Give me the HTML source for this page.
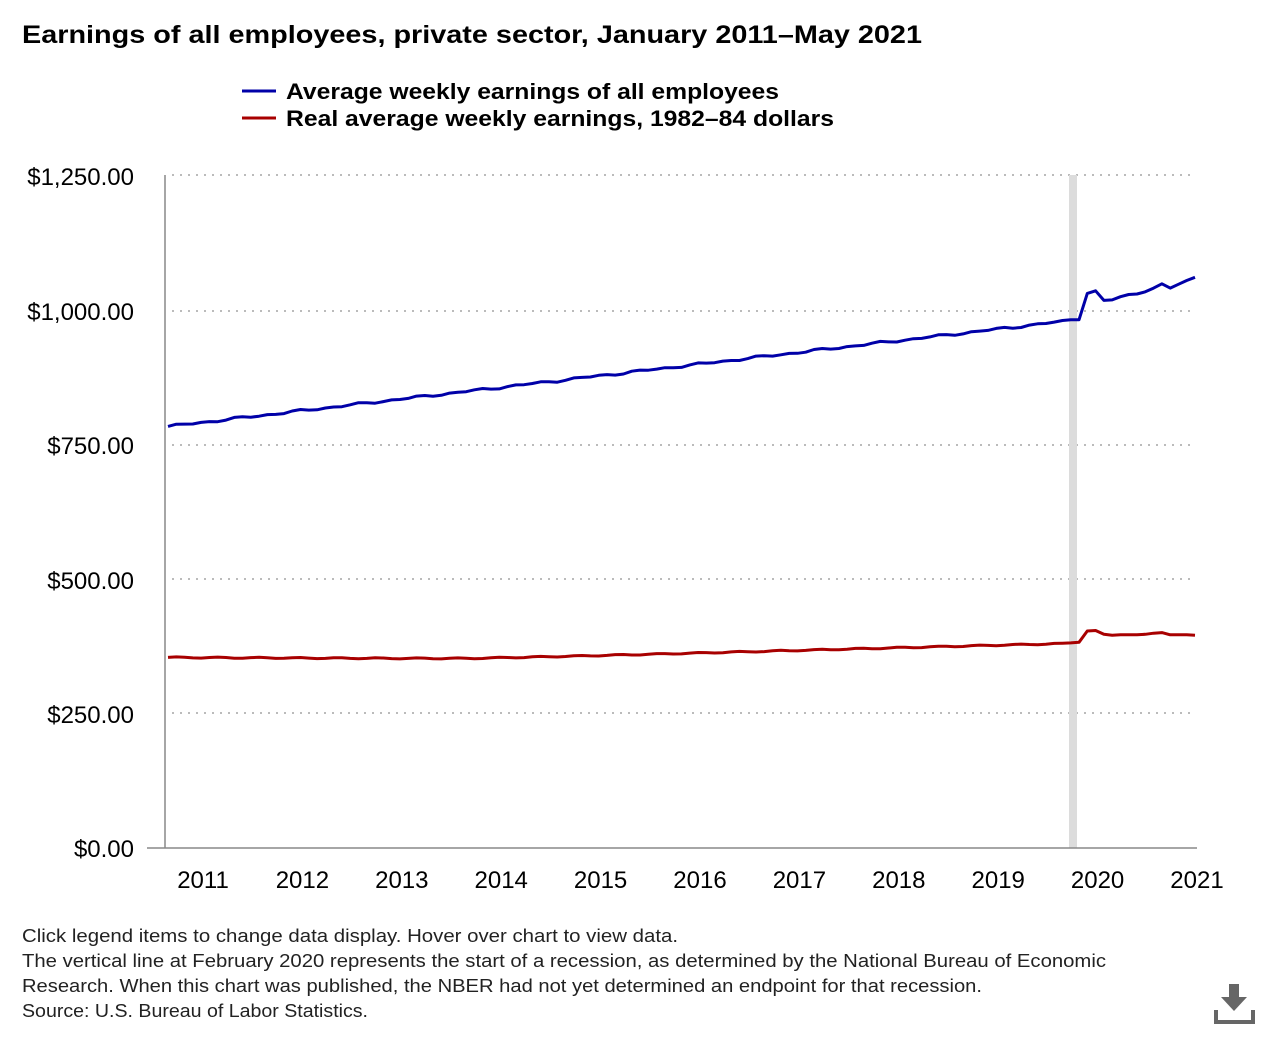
<!DOCTYPE html>
<html><head><meta charset="utf-8"><style>
body{margin:0;background:#fff;width:1280px;height:1032px;overflow:hidden;font-family:"Liberation Sans",Arial,sans-serif;}
</style></head><body>
<svg width="1280" height="1032" xmlns="http://www.w3.org/2000/svg" font-family="Liberation Sans, Arial, sans-serif">
<text x="22" y="43" font-size="25" font-weight="bold" fill="#000" textLength="900" lengthAdjust="spacingAndGlyphs">Earnings of all employees, private sector, January 2011–May 2021</text>
<line x1="242" y1="91" x2="276" y2="91" stroke="#0000a8" stroke-width="3"/>
<text x="286" y="99" font-size="22" font-weight="bold" fill="#000" textLength="493" lengthAdjust="spacingAndGlyphs">Average weekly earnings of all employees</text>
<line x1="242" y1="118" x2="276" y2="118" stroke="#a80000" stroke-width="3"/>
<text x="286" y="126" font-size="22" font-weight="bold" fill="#000" textLength="548" lengthAdjust="spacingAndGlyphs">Real average weekly earnings, 1982–84 dollars</text>
<g stroke="#bbb" stroke-width="2" stroke-dasharray="2,6">
<line x1="172" y1="175" x2="1195" y2="175"/>
<line x1="172" y1="311" x2="1195" y2="311"/>
<line x1="172" y1="445" x2="1195" y2="445"/>
<line x1="172" y1="579" x2="1195" y2="579"/>
<line x1="172" y1="713" x2="1195" y2="713"/>
</g>
<rect x="1069" y="175" width="8" height="673" fill="#dcdcdc"/>
<line x1="165" y1="175" x2="165" y2="848" stroke="#888" stroke-width="1.5"/>
<line x1="147" y1="848" x2="1197" y2="848" stroke="#888" stroke-width="1.5"/>
<g font-size="24" fill="#000" text-anchor="end">
<text x="134" y="185">$1,250.00</text>
<text x="134" y="320">$1,000.00</text>
<text x="134" y="454">$750.00</text>
<text x="134" y="589">$500.00</text>
<text x="134" y="723">$250.00</text>
<text x="134" y="857">$0.00</text>
</g>
<g font-size="24" fill="#000" text-anchor="middle" id="xl"></g>
<polyline id="blue" fill="none" stroke="#0000a8" stroke-width="3" stroke-linejoin="round"/>
<polyline id="red" fill="none" stroke="#a80000" stroke-width="3" stroke-linejoin="round"/>
<g font-size="18" fill="#222" lengthAdjust="spacingAndGlyphs">
<text x="22" y="942" textLength="656" lengthAdjust="spacingAndGlyphs">Click legend items to change data display. Hover over chart to view data.</text>
<text x="22" y="967" textLength="1084" lengthAdjust="spacingAndGlyphs">The vertical line at February 2020 represents the start of a recession, as determined by the National Bureau of Economic</text>
<text x="22" y="992" textLength="960" lengthAdjust="spacingAndGlyphs">Research. When this chart was published, the NBER had not yet determined an endpoint for that recession.</text>
<text x="22" y="1017" textLength="346" lengthAdjust="spacingAndGlyphs">Source: U.S. Bureau of Labor Statistics.</text>
</g>
<g fill="#666">
<rect x="1229" y="984" width="10" height="14"/>
<polygon points="1221,997 1247,997 1234,1011"/>
<rect x="1214" y="1020" width="41" height="4"/>
<rect x="1214" y="1010" width="4" height="12"/>
<rect x="1251" y="1010" width="4" height="12"/>
</g>
</svg>
<script>
var yv=function(v){return 848-v*673/1250;};
var xl=document.getElementById('xl'),s='';
for(var k=0;k<11;k++){s+='<text x="'+(203+k*99.4)+'" y="888">'+(2011+k)+'</text>';}
xl.innerHTML=s;
var b=[],r=[];
for(var i=0;i<=108;i++){
 var n=Math.sin(i*1.7)*1.5+Math.sin(i*0.9)*1.2;
 b.push(783+i*(978-783)/108+n);
 var rv=354-Math.sin(i/25)*2+(i>36?(i-36)*0.33:0)+Math.sin(i*1.3)*1.0;
 r.push(rv);
}
b=b.concat([981,981,1030,1035,1017,1018,1024,1028,1029,1033,1040,1048,1040,1047,1054,1060]);
r=r.concat([381,382,403,404,397,395,396,396,396,397,399,400,396,396,396,395]);
function pts(a){return a.map(function(v,i){return (168+i*1027/124).toFixed(1)+','+yv(v).toFixed(1);}).join(' ');}
document.getElementById('blue').setAttribute('points',pts(b));
document.getElementById('red').setAttribute('points',pts(r));
</script>
</body></html>
